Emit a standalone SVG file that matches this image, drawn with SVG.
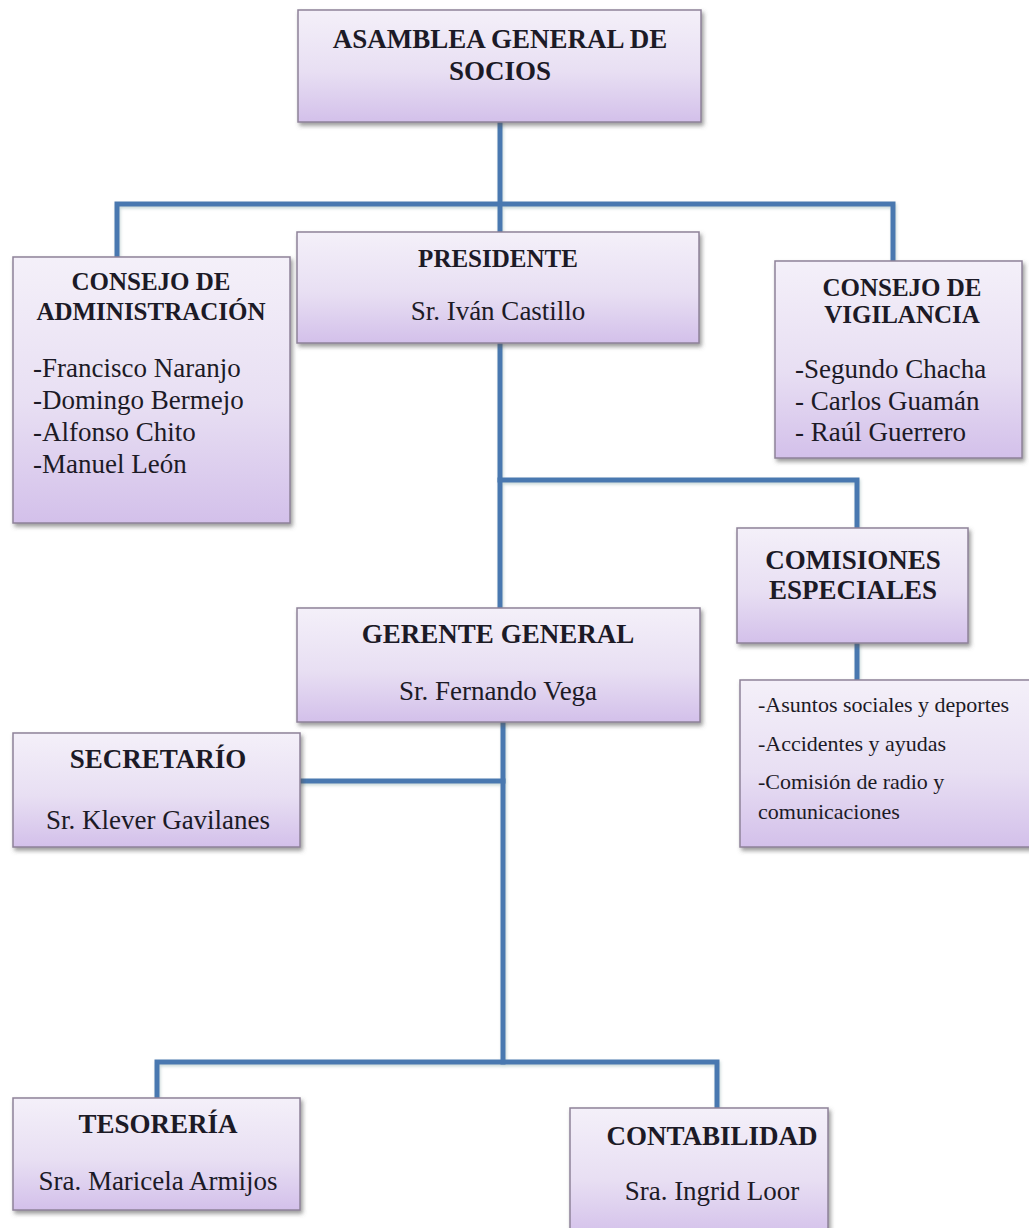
<svg xmlns="http://www.w3.org/2000/svg" width="1029" height="1228" viewBox="0 0 1029 1228">
<defs>
<linearGradient id="boxg" x1="0" y1="0" x2="0" y2="1">
<stop offset="0" stop-color="#f4f0f9"/>
<stop offset="0.55" stop-color="#e8dff3"/>
<stop offset="1" stop-color="#d3c0ea"/>
</linearGradient>
<filter id="sh" x="-5%" y="-5%" width="112%" height="115%">
<feDropShadow dx="2" dy="3" stdDeviation="2" flood-color="#555" flood-opacity="0.6"/>
</filter>
<filter id="lsh" x="-5%" y="-5%" width="110%" height="110%">
<feDropShadow dx="1" dy="2" stdDeviation="1.5" flood-color="#8aa" flood-opacity="0.45"/>
</filter>
</defs>
<style>
.box{fill:url(#boxg);stroke:#8e8299;stroke-width:1.5;filter:url(#sh)}
.con{fill:none;stroke:#4a78b0;stroke-width:5;stroke-linecap:square;stroke-linejoin:miter}
text{font-family:"Liberation Serif","Times New Roman",serif;fill:#1c1a26}
.b{font-weight:bold;font-size:27px;text-anchor:middle}
.bs{font-weight:bold;font-size:25px;text-anchor:middle}
.r{font-size:27px;text-anchor:middle}
.l{font-size:27px}
.s{font-size:22px}
</style>
<rect width="1029" height="1228" fill="#ffffff"/>
<g id="connectors" filter="url(#lsh)">
<path class="con" d="M500 122 V232"/>
<path class="con" d="M117 257 V204 H893 V261"/>
<path class="con" d="M500 343 V608"/>
<path class="con" d="M500 480 H857 V528"/>
<path class="con" d="M857 643 V680"/>
<path class="con" d="M503 722 V1062"/>
<path class="con" d="M300 781 H503"/>
<path class="con" d="M157 1098 V1062 H717 V1108"/>
</g>
<g id="asamblea">
<rect class="box" x="298" y="10" width="403" height="112"/>
<text class="b" x="500" y="48">ASAMBLEA GENERAL DE</text>
<text class="b" x="500" y="80">SOCIOS</text>
</g>
<g id="presidente">
<rect class="box" x="297" y="232" width="402" height="111"/>
<text class="bs" x="498" y="267">PRESIDENTE</text>
<text class="r" x="498" y="320">Sr. Iván Castillo</text>
</g>
<g id="consejo-administracion">
<rect class="box" x="13" y="257" width="277" height="266"/>
<text class="bs" x="151" y="290">CONSEJO DE</text>
<text class="bs" x="151" y="320" font-size="24">ADMINISTRACIÓN</text>
<text class="l" x="33" y="377">-Francisco Naranjo</text>
<text class="l" x="33" y="409">-Domingo Bermejo</text>
<text class="l" x="33" y="441">-Alfonso Chito</text>
<text class="l" x="33" y="473">-Manuel León</text>
</g>
<g id="consejo-vigilancia">
<rect class="box" x="775" y="261" width="247" height="197"/>
<text class="bs" x="902" y="296">CONSEJO DE</text>
<text class="bs" x="902" y="323">VIGILANCIA</text>
<text class="l" x="795" y="378">-Segundo Chacha</text>
<text class="l" x="795" y="410">- Carlos Guamán</text>
<text class="l" x="795" y="441">- Raúl Guerrero</text>
</g>
<g id="comisiones">
<rect class="box" x="737" y="528" width="231" height="115"/>
<text class="b" x="853" y="569">COMISIONES</text>
<text class="b" x="853" y="599">ESPECIALES</text>
</g>
<g id="comisiones-lista">
<rect class="box" x="740" y="680" width="295" height="167"/>
<text class="s" x="758" y="712">-Asuntos sociales y deportes</text>
<text class="s" x="758" y="751">-Accidentes y ayudas</text>
<text class="s" x="758" y="789">-Comisión de radio y</text>
<text class="s" x="758" y="819">comunicaciones</text>
</g>
<g id="gerente">
<rect class="box" x="297" y="608" width="403" height="114"/>
<text class="b" x="498" y="643">GERENTE GENERAL</text>
<text class="r" x="498" y="700">Sr. Fernando Vega</text>
</g>
<g id="secretario">
<rect class="box" x="13" y="733" width="287" height="114"/>
<text class="b" x="158" y="768">SECRETARÍO</text>
<text class="r" x="158" y="829">Sr. Klever Gavilanes</text>
</g>
<g id="tesoreria">
<rect class="box" x="13" y="1098" width="287" height="112"/>
<text class="b" x="158" y="1133">TESORERÍA</text>
<text class="r" x="158" y="1190">Sra. Maricela Armijos</text>
</g>
<g id="contabilidad">
<rect class="box" x="570" y="1108" width="258" height="130"/>
<text class="b" x="712" y="1145">CONTABILIDAD</text>
<text class="r" x="712" y="1200">Sra. Ingrid Loor</text>
</g>
</svg>
